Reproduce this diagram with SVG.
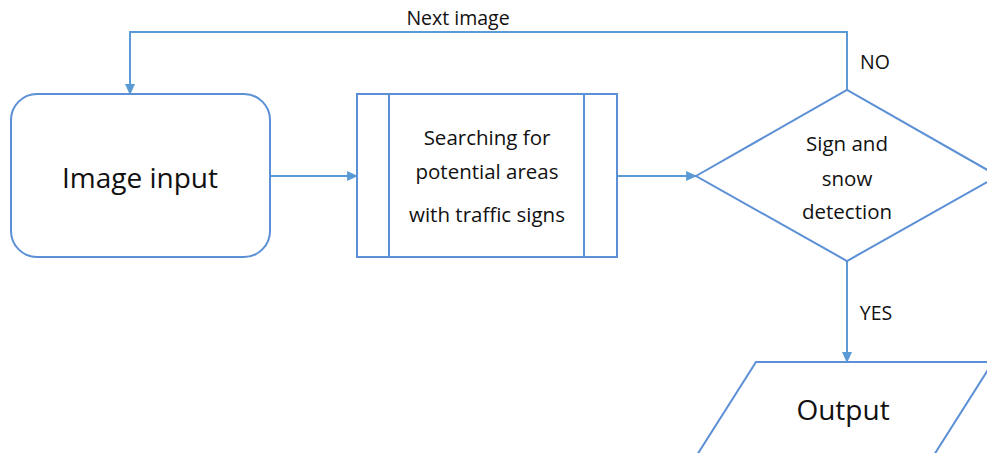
<svg xmlns="http://www.w3.org/2000/svg" width="987" height="453" viewBox="0 0 987 453">
<defs>
<style>
.s{fill:#fff;stroke:#5B8FD6;stroke-width:2}
.c{fill:none;stroke:#5B9BD5;stroke-width:2}
text{font-family:"Open Sans","Liberation Sans",sans-serif;fill:#111;text-anchor:middle}
.big{font-size:28px}
.mid{font-size:20.5px}
.lab{font-size:19.5px}
</style>
<marker id="a" viewBox="0 0 10 10" refX="9" refY="5" markerWidth="11" markerHeight="10" orient="auto" markerUnits="userSpaceOnUse" preserveAspectRatio="none"><path d="M0,0 L10,5 L0,10 z" fill="#5B9BD5"/></marker>
</defs>
<rect width="987" height="453" fill="#fff"/>
<g id="connectors">
<path class="c" d="M847,90 V32 H130 V94" marker-end="url(#a)"/>
<path class="c" d="M271,176 H357" marker-end="url(#a)"/>
<path class="c" d="M617,176 H696" marker-end="url(#a)"/>
<path class="c" d="M847,261 V362" marker-end="url(#a)"/>
<text class="lab" x="458" y="25">Next image</text>
<text class="lab" x="875" y="69">NO</text>
<text class="lab" x="876" y="320">YES</text>
</g>
<g id="image-input">
<rect class="s" x="11" y="94" width="259" height="163" rx="26"/>
<text class="big" x="140" y="188">Image input</text>
</g>
<g id="search">
<rect class="s" x="357" y="94" width="260" height="163"/>
<path class="s" d="M389,94 V257 M584,94 V257"/>
<text class="mid" x="487" y="145">Searching for</text>
<text class="mid" x="487" y="179">potential areas</text>
<text class="mid" x="487" y="222">with traffic signs</text>
</g>
<g id="decision">
<path class="s" d="M696,176 L847,90 L998,176 L847,261 Z"/>
<text class="mid" x="847" y="151">Sign and</text>
<text class="mid" x="847" y="186">snow</text>
<text class="mid" x="847" y="219">detection</text>
</g>
<g id="output">
<path class="s" d="M756,362 L993,362 L934,455 L697,455 Z"/>
<text class="big" x="843" y="420">Output</text>
</g>
</svg>
